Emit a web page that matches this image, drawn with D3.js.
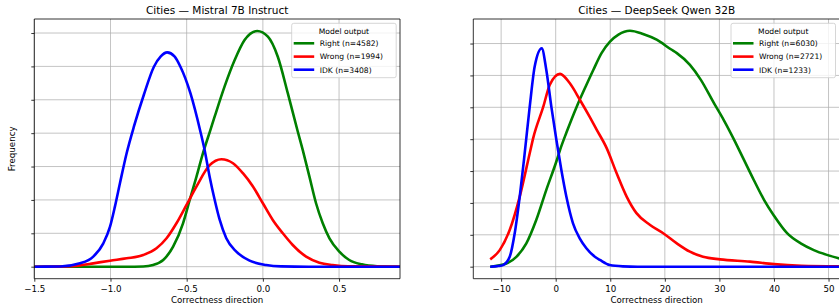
<!DOCTYPE html>
<html><head><meta charset="utf-8">
<script src="https://cdn.jsdelivr.net/npm/d3@7"></script>
<style>body{margin:0;background:#fff} svg{display:block} text{font-family:"DejaVu Sans",sans-serif;fill:#000}</style>
</head><body><svg id="c" width="839" height="306"></svg>
<script>
// ---------- data ----------
const seriesNames = ["Right", "Wrong", "IDK"];
const seriesColors = ["#008000", "#ff0000", "#0000ff"];
const panelTitles = ["Cities \u2014 Mistral 7B Instruct", "Cities \u2014 DeepSeek Qwen 32B"];
const legendTitle = "Model output";
const xLabel = "Correctness direction";
const yLabel = "Frequency";
const mistralCounts = [4582, 1994, 3408];
const qwenCounts = [6030, 2721, 1233];
const mistralXTicks = [-1.5, -1.0, -0.5, 0.0, 0.5];
const qwenXTicks = [-10, 0, 10, 20, 30, 40, 50];
const yTicks = [0, 1, 2, 3, 4, 5, 6, 7];

// Mistral 7B Instruct
const mistralRightX = [-1.5, -0.9, -0.785, -0.72, -0.654, -0.589, -0.524, -0.48, -0.436, -0.393, -0.344, -0.316, -0.251, -0.185, -0.12, -0.037, 0.033, 0.098, 0.164, 0.229, 0.262, 0.306, 0.349, 0.393, 0.437, 0.502, 0.567, 0.65, 0.75, 0.9];
const mistralRightY = [0, 0, 0.005, 0.05, 0.2, 0.6, 1.3, 2.0, 2.69, 3.4, 4.1, 4.5, 5.4, 6.19, 6.79, 7.06, 6.89, 6.29, 5.19, 4.05, 3.49, 2.69, 1.9, 1.3, 0.85, 0.45, 0.2, 0.07, 0.015, 0];
const mistralWrongX = [-1.5, -1.3, -1.2, -1.113, -1.003, -0.894, -0.785, -0.698, -0.632, -0.567, -0.501, -0.436, -0.349, -0.272, -0.196, -0.131, -0.065, 0.0, 0.065, 0.131, 0.196, 0.284, 0.371, 0.458, 0.56, 0.9];
const mistralWrongY = [0, 0.01, 0.04, 0.1, 0.18, 0.25, 0.35, 0.55, 0.85, 1.3, 1.85, 2.4, 3.04, 3.22, 3.1, 2.8, 2.4, 1.9, 1.4, 1.0, 0.65, 0.3, 0.12, 0.05, 0.01, 0];
const mistralIdkX = [-1.5, -1.33, -1.2, -1.113, -1.047, -1.003, -0.971, -0.938, -0.894, -0.846, -0.781, -0.715, -0.67, -0.628, -0.58, -0.541, -0.475, -0.41, -0.382, -0.349, -0.316, -0.283, -0.24, -0.174, -0.087, 0.022, 0.12, 0.3, 0.9];
const mistralIdkY = [0, 0.005, 0.1, 0.3, 0.7, 1.2, 1.8, 2.5, 3.4, 4.2, 5.15, 5.99, 6.3, 6.42, 6.3, 5.99, 5.19, 4.05, 3.49, 2.69, 2.0, 1.4, 0.85, 0.45, 0.18, 0.05, 0.01, 0, 0];

// DeepSeek Qwen 32B
const qwenRightX = [-12, -9.04, -7.21, -5.38, -3.55, -1.72, 0.12, 0.79, 1.95, 3.85, 5.62, 6.89, 8.4, 9.95, 11.5, 13.6, 16.0, 18.5, 21.1, 22.2, 24.6, 26.6, 29.0, 30.8, 32.7, 34.5, 36.3, 38.2, 40.0, 42.4, 44.9, 47.3, 49.7, 52.1];
const qwenRightY = [0, 0.1, 0.31, 0.73, 1.47, 2.41, 3.3, 3.66, 4.2, 5.02, 5.7, 6.17, 6.7, 7.06, 7.28, 7.4, 7.3, 7.12, 6.82, 6.7, 6.33, 5.86, 5.13, 4.6, 3.98, 3.35, 2.72, 2.09, 1.6, 1.05, 0.73, 0.52, 0.37, 0.25];
const qwenWrongX = [-12, -10.26, -8.43, -6.59, -4.76, -4.1, -2.27, -1.1, 0.79, 2.56, 4.45, 6.23, 7.5, 9.34, 11.17, 13.0, 14.8, 17.3, 19.7, 22.2, 24.6, 27.0, 30.1, 35.6, 40.0, 45.0, 52.1];
const qwenWrongY = [0.23, 0.52, 1.15, 2.2, 3.56, 4.05, 5.02, 5.7, 6.05, 5.76, 5.23, 4.7, 4.3, 3.72, 2.93, 2.2, 1.68, 1.31, 1.05, 0.73, 0.47, 0.31, 0.23, 0.16, 0.08, 0.03, 0.01];
const qwenIdkX = [-12, -10.5, -9.65, -8.43, -7.51, -6.59, -5.68, -4.76, -3.85, -2.56, -1.72, -0.8, 0.12, 1.03, 1.95, 3.17, 4.4, 5.62, 7.44, 8.1, 9.9, 12.3, 15, 52.1];
const qwenIdkY = [0, 0.02, 0.05, 0.31, 1.05, 2.2, 3.56, 5.02, 6.28, 6.85, 6.17, 5.02, 3.98, 3.04, 2.2, 1.36, 0.89, 0.58, 0.28, 0.21, 0.05, 0.01, 0, 0];

// ---------- layout ----------
const panels = [
  { title: panelTitles[0], counts: mistralCounts, xTicks: mistralXTicks, xFmt: d3.format(".1f"),
    xDomain: [-1.5, 0.9], yDomain: [-0.36, 7.42], left: 34.3, right: 400, showYLabel: true,
    series: [[mistralRightX, mistralRightY], [mistralWrongX, mistralWrongY], [mistralIdkX, mistralIdkY]],
    legendX: 291.7 },
  { title: panelTitles[1], counts: qwenCounts, xTicks: qwenXTicks, xFmt: d3.format("d"),
    xDomain: [-15.1, 52.1], yDomain: [-0.377, 7.77], left: 473.3, right: 840, showYLabel: false,
    series: [[qwenRightX, qwenRightY], [qwenWrongX, qwenWrongY], [qwenIdkX, qwenIdkY]],
    legendX: 731 }
];
const plotTop = 19, plotBottom = 278.7;
const svg = d3.select("#c");

panels.forEach((p, pi) => {
  const x = d3.scaleLinear().domain(p.xDomain).range([p.left, p.right]);
  const y = d3.scaleLinear().domain(p.yDomain).range([plotBottom, plotTop]);
  const g = svg.append("g");
  const clipId = "clip" + pi;
  svg.append("clipPath").attr("id", clipId).append("rect")
    .attr("x", p.left).attr("y", plotTop).attr("width", p.right - p.left).attr("height", plotBottom - plotTop);

  // grid
  const grid = g.append("g").attr("stroke", "#b0b0b0").attr("stroke-width", 0.75);
  p.xTicks.forEach(t => grid.append("line").attr("x1", x(t)).attr("x2", x(t)).attr("y1", plotTop).attr("y2", plotBottom));
  yTicks.forEach(t => grid.append("line").attr("x1", p.left).attr("x2", p.right).attr("y1", y(t)).attr("y2", y(t)));

  // curves
  const line = d3.line().x(d => x(d[0])).y(d => y(d[1])).curve(d3.curveMonotoneX);
  const cg = g.append("g").attr("clip-path", `url(#${clipId})`);
  p.series.forEach((s, si) => {
    const pts = s[0].map((xv, i) => [xv, s[1][i]]);
    cg.append("path").attr("d", line(pts)).attr("fill", "none")
      .attr("stroke", seriesColors[si]).attr("stroke-width", 2.6)
      .attr("stroke-linejoin", "round").attr("stroke-linecap", "butt");
  });

  // axes
  const xAxis = d3.axisBottom(x).tickValues(p.xTicks).tickFormat(p.xFmt).tickSize(3).tickPadding(4);
  const xg = g.append("g").attr("transform", `translate(0,${plotBottom})`).call(xAxis);
  xg.select(".domain").remove();
  xg.selectAll("text").attr("font-size", 8.7).attr("font-family", "DejaVu Sans").attr("fill", "#000");
  xg.selectAll("line").attr("stroke", "#000").attr("stroke-width", 0.8);
  const yAxis = d3.axisLeft(y).tickValues(yTicks).tickFormat("").tickSize(3);
  const yg = g.append("g").attr("transform", `translate(${p.left},0)`).call(yAxis);
  yg.select(".domain").remove();
  yg.selectAll("line").attr("stroke", "#000").attr("stroke-width", 0.8);

  // spines
  const sp = g.append("g").attr("stroke", "#000").attr("stroke-width", 0.8).attr("fill", "none");
  sp.append("line").attr("x1", p.left).attr("x2", p.left).attr("y1", plotTop).attr("y2", plotBottom);
  sp.append("line").attr("x1", p.left).attr("x2", p.right).attr("y1", plotBottom).attr("y2", plotBottom);
  sp.append("line").attr("x1", p.left).attr("x2", p.right).attr("y1", plotTop).attr("y2", plotTop);
  sp.append("line").attr("x1", p.right).attr("x2", p.right).attr("y1", plotTop).attr("y2", plotBottom);

  // title and labels
  const cx = (p.left + p.right) / 2;
  g.append("text").attr("x", cx).attr("y", 14.3).attr("text-anchor", "middle").attr("font-size", 10.5).text(p.title);
  g.append("text").attr("x", cx).attr("y", 303.2).attr("text-anchor", "middle").attr("font-size", 8.7).text(xLabel);
  if (p.showYLabel) {
    g.append("text").attr("transform", `translate(14.8,${(plotTop + plotBottom) / 2}) rotate(-90)`)
      .attr("text-anchor", "middle").attr("font-size", 8.7).text(yLabel);
  }

  // legend
  const lx = p.legendX, ly = 23.3, lw = 104.5, lh = 54.4;
  const lg = g.append("g");
  lg.append("rect").attr("x", lx).attr("y", ly).attr("width", lw).attr("height", lh)
    .attr("rx", 2).attr("fill", "#fff").attr("fill-opacity", 0.8).attr("stroke", "#cccccc").attr("stroke-width", 0.8);
  lg.append("text").attr("x", lx + lw / 2).attr("y", 33.8).attr("text-anchor", "middle").attr("font-size", 7.6).text(legendTitle);
  const rowY = [43.3, 56.6, 69.7];
  seriesNames.forEach((n, si) => {
    lg.append("line").attr("x1", lx + 2).attr("x2", lx + 22.5).attr("y1", rowY[si]).attr("y2", rowY[si])
      .attr("stroke", seriesColors[si]).attr("stroke-width", 2.6);
    lg.append("text").attr("x", lx + 28).attr("y", rowY[si] + 2.8).attr("font-size", 7.6)
      .text(`${n} (n=${p.counts[si]})`);
  });
});
</script></body></html>
